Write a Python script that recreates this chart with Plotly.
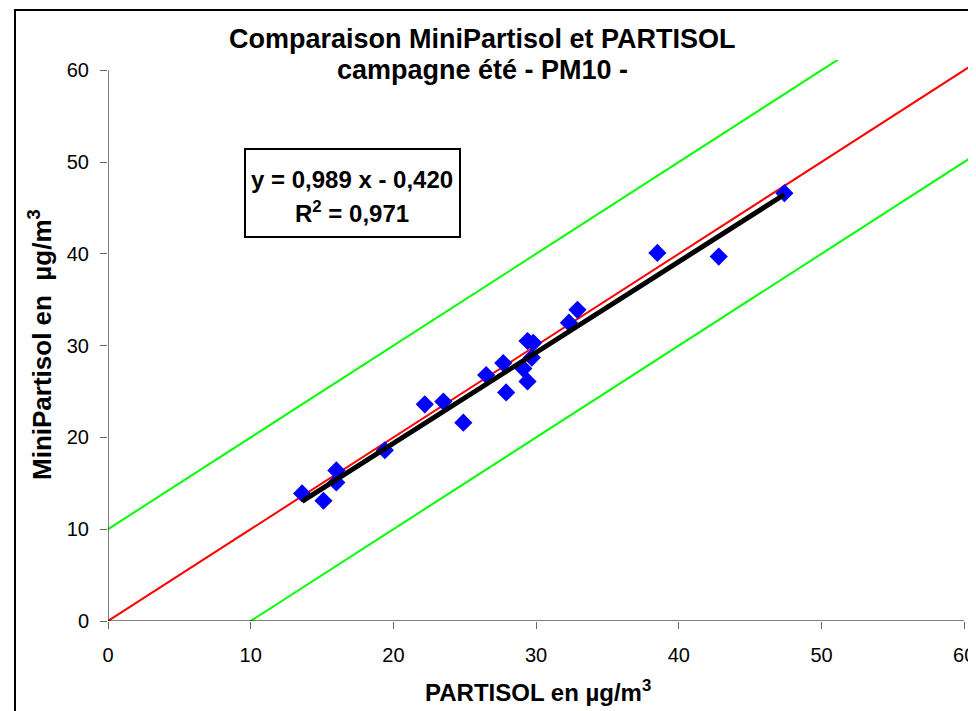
import plotly.graph_objects as go

# Data
partisol = [13.6, 15.1, 16.0, 16.0, 19.4, 22.2, 23.5, 24.9, 26.5, 27.7, 27.9,
            29.1, 29.4, 29.4, 29.7, 29.8, 32.3, 32.9, 38.5, 42.8, 47.4]
minipartisol = [13.9, 13.1, 16.4, 15.1, 18.6, 23.6, 23.9, 21.6, 26.8, 28.1, 24.9,
                27.5, 26.1, 30.5, 28.7, 30.3, 32.5, 33.9, 40.1, 39.7, 46.6]
slope = 0.989
intercept = -0.420
r2 = 0.971
ref_offset = 10
tick_values = [0, 10, 20, 30, 40, 50, 60]

# page offset (browser body margin)
OFF = 8
W, H = 976 - OFF, 711 - OFF
# plot area in window pixels
PL, PR, PT, PB = 108, 976, 60, 621
L, R, T, B = PL - OFF, 976 - PR, PT - OFF, 711 - PB
xmax = (PR - PL) / 14.27
ymax = (PB - PT) / 9.18

FONT = "Liberation Sans"

fig = go.Figure()

ext = [-20, 80]
fig.add_trace(go.Scatter(x=ext, y=[v for v in ext], mode="lines",
                         line=dict(color="#FF0000", width=2), showlegend=False, hoverinfo="skip"))
fig.add_trace(go.Scatter(x=ext, y=[v + ref_offset for v in ext], mode="lines",
                         line=dict(color="#00FF00", width=2), showlegend=False, hoverinfo="skip"))
fig.add_trace(go.Scatter(x=ext, y=[v - ref_offset for v in ext], mode="lines",
                         line=dict(color="#00FF00", width=2), showlegend=False, hoverinfo="skip"))

fig.add_trace(go.Scatter(x=partisol, y=minipartisol, mode="markers",
                         marker=dict(symbol="diamond", size=14, color="#0000FF",
                                     line=dict(width=0)),
                         showlegend=False))

xr = [min(partisol), max(partisol)]
fig.add_trace(go.Scatter(x=xr, y=[slope * v + intercept for v in xr], mode="lines",
                         line=dict(color="#000000", width=5), showlegend=False))

pw = W - L - R
ph = H - T - B


def px_x(p):
    return (p - OFF - L) / pw


def px_y(p):
    return (H - B - (p - OFF)) / ph


axis_font = dict(family=FONT, size=20, color="#000")

fig.update_layout(
    width=W, height=H,
    margin=dict(l=L, r=R, t=T, b=B, pad=0),
    plot_bgcolor="white", paper_bgcolor="white",
    xaxis=dict(range=[0, xmax], tickvals=tick_values, ticks="outside", ticklen=7,
               tickcolor="#666", tickwidth=1, showgrid=False, zeroline=False,
               showline=False, tickfont=axis_font, ticklabelstandoff=9),
    yaxis=dict(range=[0, ymax], tickvals=tick_values, ticks="outside", ticklen=7,
               tickcolor="#666", tickwidth=1, showgrid=False, zeroline=False,
               showline=False, tickfont=axis_font, ticklabelstandoff=7),
    shapes=[
        dict(type="line", xref="x", yref="y", x0=0, x1=60, y0=0, y1=0,
             line=dict(color="#000", width=1)),
        dict(type="line", xref="x", yref="y", x0=0, x1=0, y0=0, y1=60,
             line=dict(color="#000", width=1)),
        dict(type="rect", xref="paper", yref="paper", x0=px_x(15), x1=px_x(1010),
             y0=px_y(760), y1=px_y(10), line=dict(color="#000", width=2)),
        dict(type="rect", xref="paper", yref="paper", x0=px_x(245), x1=px_x(460),
             y0=px_y(237), y1=px_y(149), line=dict(color="#000", width=2),
             fillcolor="white", layer="above"),
    ],
    annotations=[
        dict(text="<b>Comparaison MiniPartisol et PARTISOL</b>", xref="paper", yref="paper",
             x=px_x(482), y=px_y(39), xanchor="center", yanchor="middle", showarrow=False,
             font=dict(family=FONT, size=27, color="#000")),
        dict(text="<b>campagne été - PM10 -</b>", xref="paper", yref="paper",
             x=px_x(482), y=px_y(70), xanchor="center", yanchor="middle", showarrow=False,
             font=dict(family=FONT, size=27, color="#000")),
        dict(text="<b>PARTISOL en µg/m<sup>3</sup></b>", xref="paper", yref="paper",
             x=px_x(538), y=px_y(691), xanchor="center", yanchor="middle", showarrow=False,
             font=dict(family=FONT, size=24, color="#000")),
        dict(text="<b>MiniPartisol en  µg/m<sup>3</sup></b>", xref="paper", yref="paper",
             x=px_x(40), y=px_y(345), xanchor="center", yanchor="middle", showarrow=False,
             textangle=-90, font=dict(family=FONT, size=26, color="#000")),
        dict(text=f"<b>y = {slope:.3f} x - {abs(intercept):.3f}</b>".replace(".", ","),
             xref="paper", yref="paper", x=px_x(352), y=px_y(179), xanchor="center",
             yanchor="middle", showarrow=False,
             font=dict(family=FONT, size=24, color="#000")),
        dict(text=f"<b>R<sup>2</sup> = {r2:.3f}</b>".replace(".", ","),
             xref="paper", yref="paper", x=px_x(352), y=px_y(212), xanchor="center",
             yanchor="middle", showarrow=False,
             font=dict(family=FONT, size=24, color="#000")),
    ],
)

fig.write_html("out.html")
